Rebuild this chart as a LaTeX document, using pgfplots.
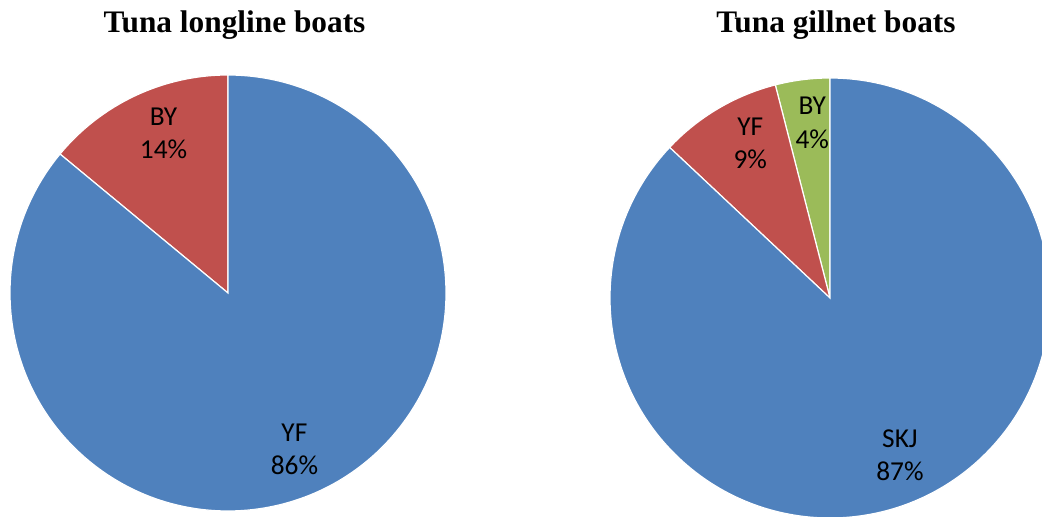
\documentclass[border=0pt]{standalone}
\usepackage{pgfplots}
\pgfplotsset{compat=1.18}
\usepackage{fontspec}
\setmainfont{Liberation Serif}
\newfontfamily\labelfont{Carlito}
\usetikzlibrary{calc}

\definecolor{pieblue}{HTML}{4F81BD}
\definecolor{piered}{HTML}{C0504D}
\definecolor{piegreen}{HTML}{9BBB59}

% one pixel of the layout grid
\newcommand{\px}{0.75pt}
% pie radius (pixels)
\newcommand{\R}{218}

% \pieslice{start angle}{share in percent}{colour}{name}{label angle}{label distance}
\newcommand{\pieslice}[6]{%
  \fill[#3, draw=white, line width=0.9pt]
    (axis cs:0,0) -- ++({#1}:\R*\px)
    arc[start angle={#1}, delta angle={#2*3.6}, radius=\R*\px] -- cycle;
  \node[font=\labelfont\fontsize{20.5}{25}\selectfont, align=center, text=black]
    at ($(axis cs:0,0)+({#5}:#6*\px)$) {#4\\#2\%};
}

\pgfplotsset{
  pie/.style={
    hide axis, clip=false,
    x=\px, y=\px,
    xmin=-230, xmax=230, ymin=-230, ymax=230,
    anchor=origin,
  },
}

\begin{document}
\begin{tikzpicture}[x=0.75pt, y=0.75pt]
\useasboundingbox (0,0) rectangle (1042,517);

\node[font=\bfseries\fontsize{23.5}{28}\selectfont, anchor=base] at (234.5,484) {Tuna longline boats};
\node[font=\bfseries\fontsize{23.5}{28}\selectfont, anchor=base] at (836,484) {Tuna gillnet boats};

% Tuna longline boats
\begin{axis}[pie, at={(228,224)}]
  \pieslice{90}{14}{piered}{BY}{112}{172}
  \pieslice{140.4}{86}{pieblue}{YF}{293}{170}
\end{axis}

% Tuna gillnet boats
\renewcommand{\R}{220}
\begin{axis}[pie, at={(830,219)}]
  \pieslice{90}{4}{piegreen}{BY}{95.8}{176}
  \pieslice{104.4}{9}{piered}{YF}{117.3}{174}
  \pieslice{136.8}{87}{pieblue}{SKJ}{294}{172}
\end{axis}
\end{tikzpicture}
\end{document}
